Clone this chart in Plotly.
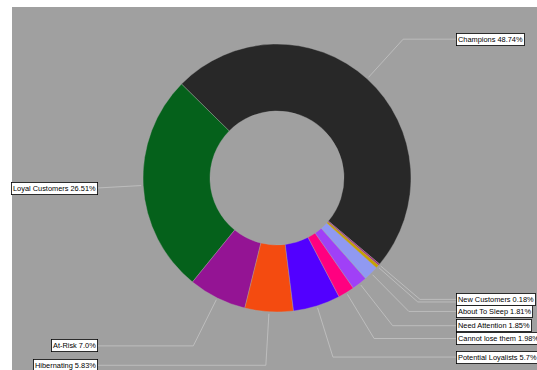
import math
import plotly.graph_objects as go

# RFM segment shares (percent), listed counter-clockwise from the start angle
segments = ["Champions", "Loyal Customers", "At-Risk", "Hibernating",
            "Potential Loyalists", "Cannot lose them", "Need Attention",
            "About To Sleep", "Promising", "New Customers"]
shares = [48.74, 26.51, 7.0, 5.83, 5.7, 1.98, 1.85, 1.81, 0.40, 0.18]
colors = ["#282828", "#05611b", "#941494", "#f44b10", "#5200ff",
          "#ff0080", "#a040f7", "#9099f2", "#c9a000", "#a3237a"]
# the Promising label lies underneath the New Customers box
unlabeled = {"Promising"}

START_ANGLE = -40.0  # degrees, counter-clockwise from 3 o'clock

# canvas geometry (pixels)
W, H = 537, 370
ML, MT = 12, 7
CX, CY, R = 277, 178, 134
PW, PH = W - ML, H - MT

total = sum(shares)
first_span = 360.0 * shares[0] / total
rotation = 90.0 - START_ANGLE - first_span

fig = go.Figure()

# leader lines: wedge edge -> elbow on the radial line -> label
lx, ly = [], []
annotations = []
pad, bw = 1.2, 0.8
angle = START_ANGLE
for name, v in zip(segments, shares):
    span = 360.0 * v / total
    mid = math.radians(angle + span / 2)
    angle += span
    x, y = math.cos(mid), math.sin(mid)
    side = 1 if x >= 0 else -1
    s = 1.015
    lx += [x * s, 1.4 * x, 1.35 * side, None]
    ly += [y * s, 1.4 * y, 1.4 * y, None]
    if name in unlabeled:
        continue
    annotations.append(dict(
        x=1.35 * side, y=1.4 * y, xref="x", yref="y",
        text=f"{name} {v}%", showarrow=False,
        xanchor="left" if side > 0 else "right", yanchor="middle",
        xshift=-(pad + bw) * side,
        font=dict(family="Liberation Sans, Arial", size=7.4, color="black"),
        bgcolor="white", bordercolor="black", borderwidth=bw, borderpad=pad,
    ))

fig.add_trace(go.Scatter(
    x=lx, y=ly, mode="lines", hoverinfo="skip",
    line=dict(color="#c4c4c4", width=0.8),
))

fig.add_trace(go.Pie(
    labels=segments, values=shares, hole=0.5, sort=False,
    direction="counterclockwise", rotation=rotation,
    marker=dict(colors=colors, line=dict(color="#a8a8a8", width=0.4)),
    textinfo="none", hoverinfo="label+percent",
    domain=dict(x=[(CX - R - ML) / PW, (CX + R - ML) / PW],
                y=[(H - (CY + R)) / PH, (H - (CY - R)) / PH]),
))

fig.update_layout(
    width=W, height=H,
    margin=dict(l=ML, t=MT, r=0, b=0, pad=0),
    paper_bgcolor="white", plot_bgcolor="#a0a0a0",
    showlegend=False,
    annotations=annotations,
    xaxis=dict(range=[(ML - CX) / R, (W - CX) / R], visible=False,
               showgrid=False, zeroline=False, fixedrange=True),
    yaxis=dict(range=[(CY - H) / R, (CY - MT) / R], visible=False,
               showgrid=False, zeroline=False, fixedrange=True),
)

fig.write_html("out.html")
